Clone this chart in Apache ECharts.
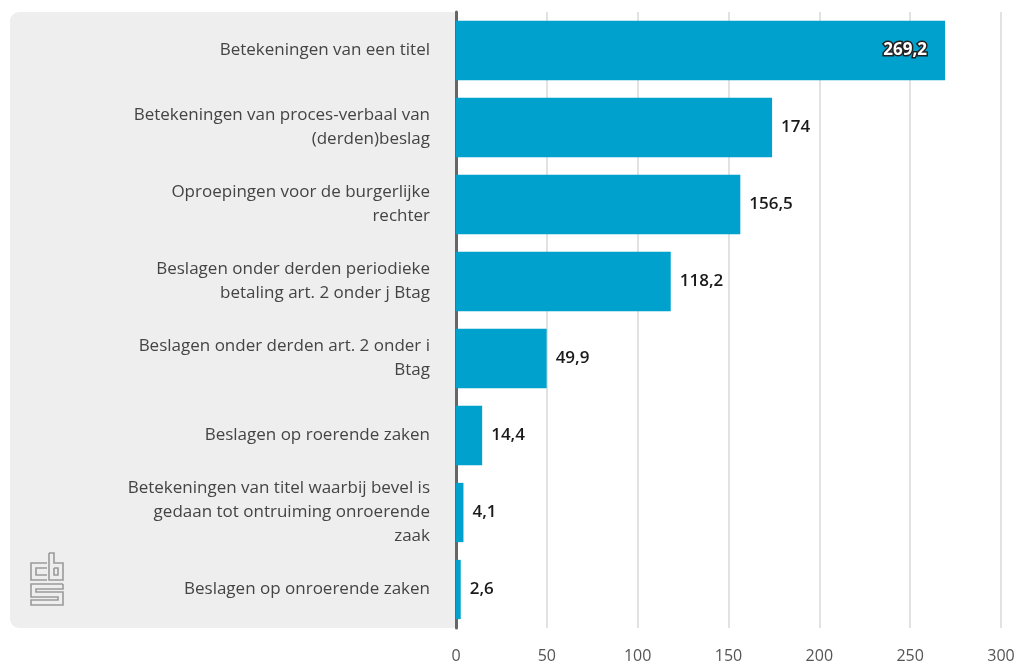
<!DOCTYPE html>
<html>
<head>
<meta charset="utf-8">
<script src="https://cdn.jsdelivr.net/npm/echarts@6/dist/echarts.min.js"></script>
<style>
  html, body { margin: 0; padding: 0; background: #fff; }
  #chart { width: 1019px; height: 664px; }
</style>
</head>
<body>
<div id="chart"></div>
<script>
var categories = [
    'Betekeningen van een titel',
    'Betekeningen van proces-verbaal van\n(derden)beslag',
    'Oproepingen voor de burgerlijke\nrechter',
    'Beslagen onder derden periodieke\nbetaling art. 2 onder j Btag',
    'Beslagen onder derden art. 2 onder i\nBtag',
    'Beslagen op roerende zaken',
    'Betekeningen van titel waarbij bevel is\ngedaan tot ontruiming onroerende\nzaak',
    'Beslagen op onroerende zaken'
];
var values = [269.2, 174, 156.5, 118.2, 49.9, 14.4, 4.1, 2.6];
var xTicks = [0, 50, 100, 150, 200, 250, 300];

var dom = document.getElementById('chart');
var chart = echarts.init(dom);

function fmt(v) {
    return String(v).replace('.', ',');
}

// first bar gets its label inside, white with dark outline
var barData = values.map(function (v, i) {
    if (i === 0) {
        return {
            value: v,
            label: {
                position: 'insideRight',
                distance: 18,
                color: '#fff',
                fontWeight: 'bold',
                textBorderColor: '#222',
                textBorderWidth: 3
            }
        };
    }
    return v;
});

// cbs logo, rough outline
var grey = '#9a9a9a';
var logo = [
    [[47, 563], [31, 563], [31, 580], [47, 580]],
    [[47, 568], [36, 568], [36, 575], [47, 575]],
    [[49, 553], [49, 580], [63, 580], [63, 563], [54, 563], [54, 553], [49, 553]],
    [[54, 568], [58, 568], [58, 575], [54, 575], [54, 568]],
    [[63, 584], [31, 584], [31, 597], [58, 597], [58, 600], [31, 600], [31, 605], [63, 605], [63, 592], [36, 592], [36, 589], [63, 589], [63, 584]]
].map(function (pts) {
    return {
        type: 'polyline',
        z: 1,
        shape: { points: pts },
        style: { stroke: grey, lineWidth: 1.6, fill: null }
    };
});

option = {
    animation: false,
    graphic: [{
        type: 'rect',
        z: -10,
        shape: { x: 10, y: 12, width: 446, height: 616, r: [9, 0, 0, 9] },
        style: { fill: '#eeeeee' }
    }].concat(logo),
    grid: {
        left: 456,
        right: 18,
        top: 12,
        bottom: 36
    },
    xAxis: {
        type: 'value',
        min: 0,
        max: 300,
        interval: 50,
        axisLine: { show: false },
        axisTick: { show: false },
        axisLabel: {
            margin: 20,
            fontFamily: 'Open Sans',
            fontSize: 16,
            color: '#555',
            formatter: function (v) { return xTicks.indexOf(v) >= 0 ? String(v) : ''; }
        },
        splitLine: { lineStyle: { color: '#d9d9d9', width: 1.5 } }
    },
    yAxis: {
        type: 'category',
        inverse: true,
        data: categories,
        axisLine: { lineStyle: { color: '#666', width: 3 } },
        axisTick: { show: false },
        axisLabel: {
            margin: 26,
            fontFamily: 'Open Sans',
            fontSize: 17,
            lineHeight: 24,
            color: '#444',
            align: 'right'
        }
    },
    series: [{
        type: 'bar',
        data: barData,
        barWidth: '77%',
        itemStyle: { color: '#00a1cd' },
        label: {
            show: true,
            position: 'right',
            distance: 9,
            fontFamily: 'Open Sans',
            fontSize: 17,
            fontWeight: 600,
            color: '#1a1a1a',
            formatter: function (p) { return fmt(p.value); }
        }
    }]
};

chart.setOption(option, true);
</script>
</body>
</html>
